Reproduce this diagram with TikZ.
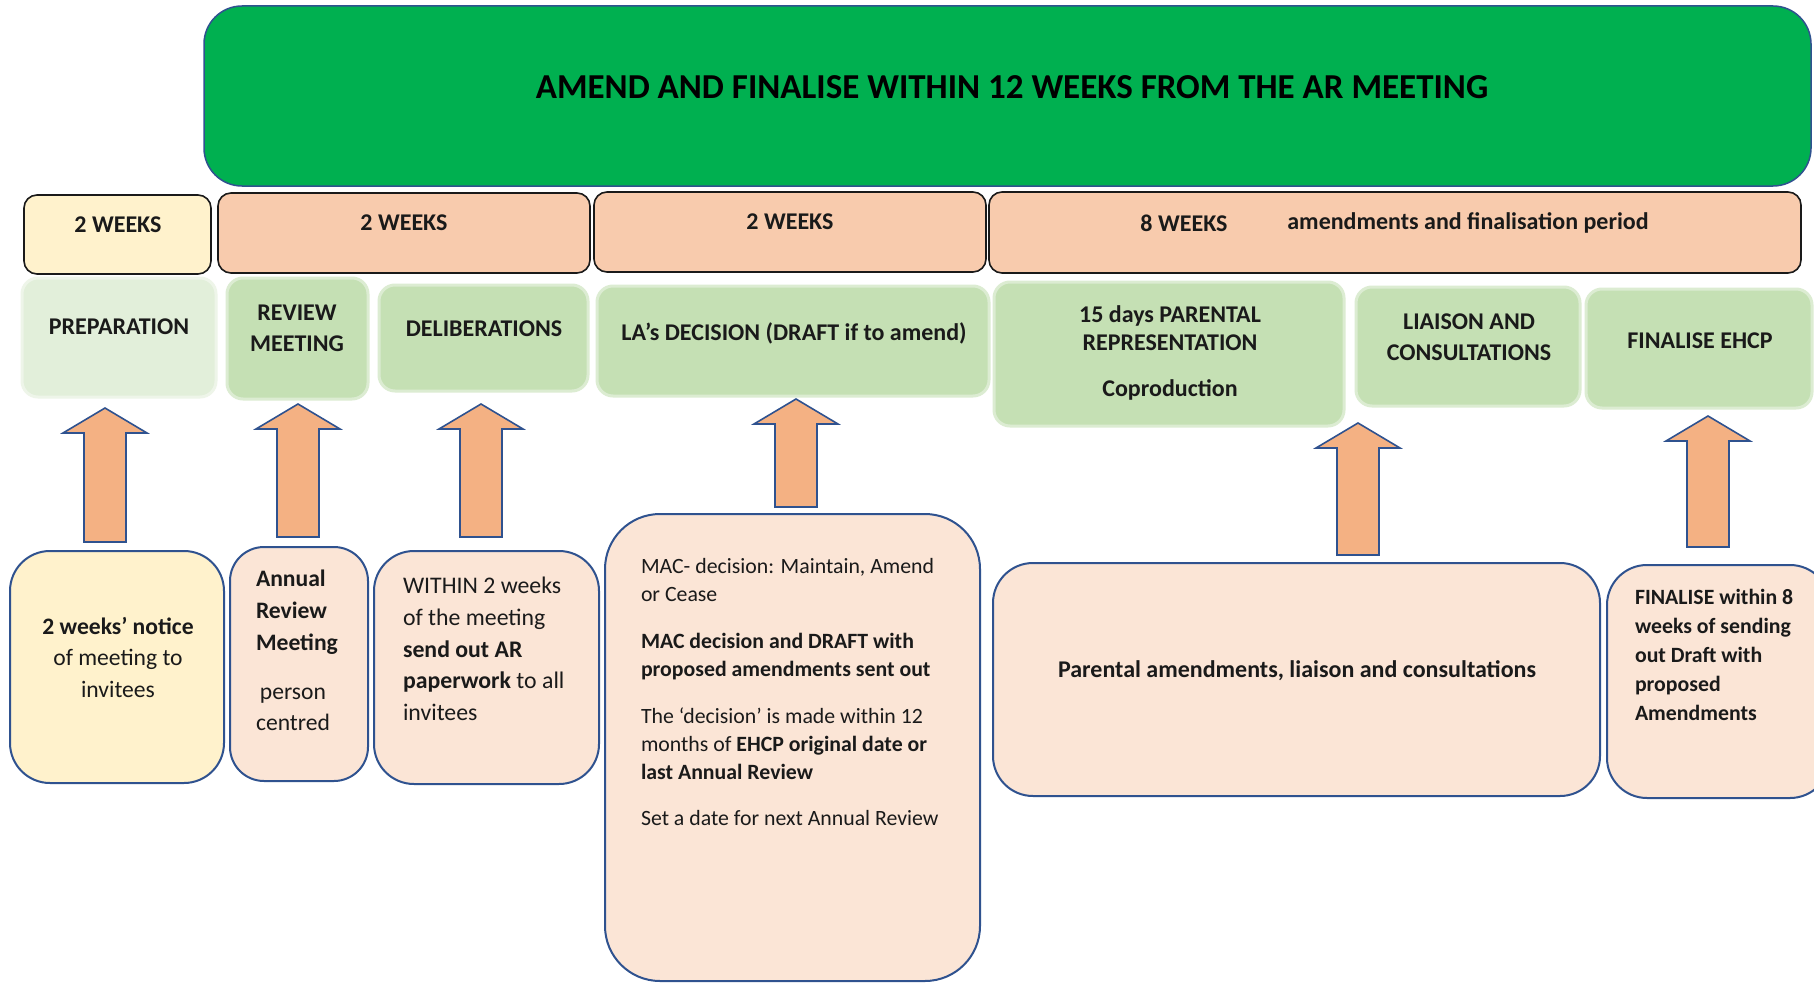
\documentclass[tikz,border=0pt]{standalone}
\usepackage{fontspec}
\setmainfont{Carlito}
\usetikzlibrary{calc,fit}
\definecolor{titlegreen}{HTML}{00B050}
\definecolor{weekpeach}{HTML}{F8CBAD}
\definecolor{weekyellow}{HTML}{FFF2CC}
\definecolor{phasegreen}{HTML}{C5E0B4}
\definecolor{phaselight}{HTML}{E2EFDA}
\definecolor{boxpeach}{HTML}{FBE5D6}
\definecolor{boxblue}{HTML}{2F528F}
\definecolor{arrowfill}{HTML}{F4B183}
\definecolor{ink}{HTML}{1A1A1A}
\newcommand\fs[2]{\fontsize{#1}{#2}\selectfont}
\tikzset{
  titlebox/.style={draw=boxblue, line width=1.5pt, fill=titlegreen, rounded corners=38pt, inner sep=0pt},
  weekbox/.style={draw=ink, line width=1.6pt, fill=weekpeach, rounded corners=13pt, inner sep=0pt},
  phasebox/.style={draw=phasegreen!60!white, line width=3pt, fill=phasegreen, rounded corners=16pt, inner sep=0pt},
  bottombox/.style={draw=boxblue, line width=2pt, fill=boxpeach, rounded corners=40pt, inner sep=0pt},
  weektext/.style={font=\bfseries\fs{24}{28}, text=ink},
  phasetext/.style={font=\bfseries\fs{24}{31}, text=ink, align=center},
  arrowst/.style={draw=boxblue, line width=1.6pt, fill=arrowfill, line join=miter},
}
\newcommand\blockarrow[2]{%
  \draw[arrowst] let \p1=(#1), \p2=(#2) in
    (\x1-21pt,\y1) -- (\x1-21pt,\y2-25pt) -- (\x1-42pt,\y2-25pt) -- (\x1,\y2)
    -- (\x1+42pt,\y2-25pt) -- (\x1+21pt,\y2-25pt) -- (\x1+21pt,\y1) -- cycle;}
\begin{document}
\begin{tikzpicture}[x=1pt,y=-1pt, every node/.append style={inner sep=0pt, outer sep=0pt}]
\useasboundingbox (0,0) rectangle (1814,982);
\fill[white] (0,0) rectangle (1814,982);

% title
\node[titlebox, fit={(204,6) (1811,186)}] (title) {};
\node[font=\bfseries\fs{35}{40}, text=black] (titleT) at (1012,87) {AMEND AND FINALISE WITHIN 12 WEEKS FROM THE AR MEETING};

% week boxes
\node[weekbox, fill=weekyellow, fit={(24,195) (211,274)}] (w1) {};
\node[weekbox, fit={(218,193) (590,273)}] (w2) {};
\node[weekbox, fit={(594,192) (986,272)}] (w3) {};
\node[weekbox, fit={(989,192) (1801,273)}] (w4) {};
\node[weektext] (w1T) at (118,225) {2 WEEKS};
\node[weektext] (w2T) at (404,223) {2 WEEKS};
\node[weektext] (w3T) at (790,222) {2 WEEKS};
\node[weektext] (w4T) at (1184,223) {8 WEEKS};
\node[weektext] (w4U) at (1468,223) {amendments and finalisation period};

% phase boxes
\node[phasebox, draw=phaselight!60!white, fill=phaselight, fit={(22,278) (216,397)}] (p1) {};
\node[phasebox, fit={(227,278) (368,399)}] (p2) {};
\node[phasebox, fit={(379,285) (588,391)}] (p3) {};
\node[phasebox, fit={(597,286) (989,396)}] (p4) {};
\node[phasebox, fit={(994,282) (1344,426)}] (p5) {};
\node[phasebox, fit={(1356,287) (1580,406)}] (p6) {};
\node[phasebox, fit={(1586,289) (1812,408)}] (p7) {};
\node[phasetext] (p1T) at (119,327) {PREPARATION};
\node[phasetext] (p2T) at (297,328) {REVIEW\\MEETING};
\node[phasetext] (p3T) at (484,329) {DELIBERATIONS};
\node[phasetext] (p4T) at (794,333) {LA’s DECISION (DRAFT if to amend)};
\node[phasetext, font=\bfseries\fs{24}{28}] (p5T) at (1170,328) {15 days PARENTAL\\REPRESENTATION};
\node[phasetext] (p5U) at (1170,390) {Coproduction};
\node[phasetext] (p6T) at (1469,337) {LIAISON AND\\CONSULTATIONS};
\node[phasetext] (p7T) at (1700,341) {FINALISE EHCP};

% bottom boxes
\node[bottombox, fill=weekyellow, fit={(10,551) (224,783)}] (bA) {};
\node[bottombox, rounded corners=34pt, fit={(230,547) (368,781)}] (bB) {};
\node[bottombox, fit={(374,551) (599,784)}] (bC) {};
\node[bottombox, rounded corners=55pt, fit={(605,514) (980,981)}] (bD) {};
\node[bottombox, fit={(993,563) (1600,796)}] (bE) {};
\node[bottombox, fit={(1607,565) (1830,798)}] (bF) {};

\node[font=\fs{23.6}{31.5}, text=ink, align=center] (bAT) at (118,657)
  {\textbf{2 weeks’ notice}\\of meeting to\\invitees};
\node[font=\bfseries\fs{23.6}{32}, text=ink, align=left, anchor=west] (bBT) at (256,612)
  {Annual\\Review\\Meeting};
\node[font=\fs{23.6}{31}, text=ink, align=center] (bBU) at (293,709)
  {person\\centred};
\node[font=\fs{23.8}{31.7}, text=ink, align=left, anchor=west] (bCT) at (403,649)
  {WITHIN 2 weeks\\of the meeting\\\textbf{send out AR}\\\textbf{paperwork} to all\\invitees};
\node[font=\fs{21.8}{28}, text=ink, align=left, anchor=west] (bDT) at (641,692)
  {MAC- decision: Maintain, Amend\\or Cease\\[19pt]
   \textbf{MAC decision and DRAFT with}\\\textbf{proposed amendments sent out}\\[19pt]
   The ‘decision’ is made within 12\\months of \textbf{EHCP original date or}\\\textbf{last Annual Review}\\[18pt]
   Set a date for next Annual Review};
\node[font=\bfseries\fs{24}{28}, text=ink] (bET) at (1297,671)
  {Parental amendments, liaison and consultations};
\node[font=\bfseries\fs{21.8}{29}, text=ink, align=left, anchor=west] (bFT) at (1635,655)
  {FINALISE within 8\\weeks of sending\\out Draft with\\proposed\\Amendments};

% arrows
\coordinate (a1b) at (105,542); \coordinate (a1t) at (105,408);
\coordinate (a2b) at (298,537); \coordinate (a2t) at (298,404);
\coordinate (a3b) at (481,537); \coordinate (a3t) at (481,404);
\coordinate (a4b) at (796,507); \coordinate (a4t) at (796,399);
\coordinate (a5b) at (1358,555); \coordinate (a5t) at (1358,423);
\coordinate (a6b) at (1708,547); \coordinate (a6t) at (1708,416);
\blockarrow{a1b}{a1t}
\blockarrow{a2b}{a2t}
\blockarrow{a3b}{a3t}
\blockarrow{a4b}{a4t}
\blockarrow{a5b}{a5t}
\blockarrow{a6b}{a6t}
\end{tikzpicture}
\end{document}
